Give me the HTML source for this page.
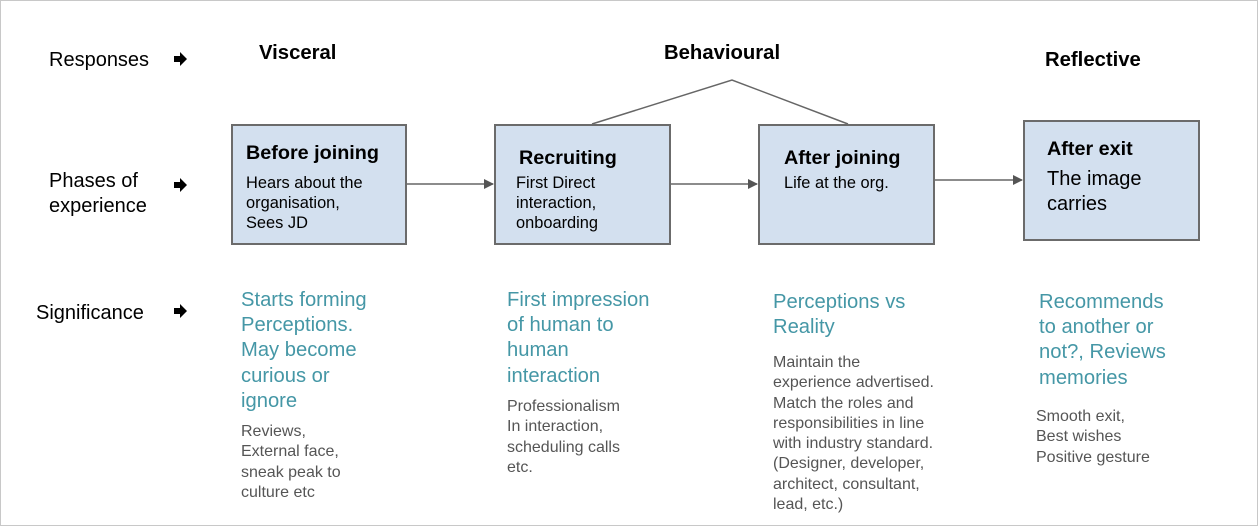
<!DOCTYPE html>
<html><head><style>
body{margin:0;width:1258px;height:526px;background:#fff;position:relative;font-family:"Liberation Sans",Arial,sans-serif;overflow:hidden}
.frame{position:absolute;left:0;top:0;width:1256px;height:524px;border:1px solid #c8c8c8}
.a{position:absolute;white-space:nowrap}
.lbl{font-size:20px;color:#000;line-height:25px}
.h{font-weight:bold;font-size:20.3px}
.box{position:absolute;background:#d3e0ef;border:2px solid #6b6b6b;box-sizing:border-box}
.bt{position:absolute;font-weight:bold;font-size:19.8px}
.bs{position:absolute;font-size:16.4px;line-height:20px;color:#000}
.teal{color:#4597a6;font-size:20.2px;line-height:25.2px}
.gray{color:#555;font-size:16px;line-height:20.3px}
</style></head><body>
<div class="frame"></div>
<svg class="a" style="left:0;top:0" width="1258" height="526">
<defs><marker id="m" markerWidth="10" markerHeight="10" refX="9" refY="5" orient="auto" markerUnits="userSpaceOnUse"><path d="M0,0 L10,5 L0,10 z" fill="#555"/></marker></defs>
<g stroke="#666" stroke-width="1.5" fill="none">
<polyline points="592,124 732,80 848,124"/>
<line x1="406" y1="184" x2="493" y2="184" marker-end="url(#m)"/>
<line x1="670" y1="184" x2="757" y2="184" marker-end="url(#m)"/>
<line x1="934" y1="180" x2="1022" y2="180" marker-end="url(#m)"/>
</g>
<g fill="#000">
<path d="M174,56 h6 v-4 l7,7 l-7,7 v-4 h-6z"/>
<path d="M174,182 h6 v-4 l7,7 l-7,7 v-4 h-6z"/>
<path d="M174,308 h6 v-4 l7,7 l-7,7 v-4 h-6z"/>
</g>
</svg>
<div class="a lbl" style="left:49px;top:48px">Responses</div>
<div class="a lbl" style="left:49px;top:169px">Phases of<br>experience</div>
<div class="a lbl" style="left:36px;top:301px">Significance</div>
<div class="a h" style="left:259px;top:42px">Visceral</div>
<div class="a h" style="left:664px;top:42px">Behavioural</div>
<div class="a h" style="left:1045px;top:49px">Reflective</div>

<div class="box" style="left:231px;top:124px;width:176px;height:121px"></div>
<div class="bt" style="left:246px;top:142px">Before joining</div>
<div class="bs" style="left:246px;top:173px">Hears about the<br>organisation,<br>Sees JD</div>

<div class="box" style="left:494px;top:124px;width:177px;height:121px"></div>
<div class="bt" style="left:519px;top:147px">Recruiting</div>
<div class="bs" style="left:516px;top:173px">First Direct<br>interaction,<br>onboarding</div>

<div class="box" style="left:758px;top:124px;width:177px;height:121px"></div>
<div class="bt" style="left:784px;top:147px">After joining</div>
<div class="bs" style="left:784px;top:173px">Life at the org.</div>

<div class="box" style="left:1023px;top:120px;width:177px;height:121px"></div>
<div class="bt" style="left:1047px;top:138px">After exit</div>
<div class="bs" style="left:1047px;top:167px;font-size:20px;line-height:25px">The image<br>carries</div>

<div class="a teal" style="left:241px;top:288px">Starts forming<br>Perceptions.<br>May become<br>curious or<br>ignore</div>
<div class="a gray" style="left:241px;top:422px">Reviews,<br>External face,<br>sneak peak to<br>culture etc</div>

<div class="a teal" style="left:507px;top:288px">First impression<br>of human to<br>human<br>interaction</div>
<div class="a gray" style="left:507px;top:397px">Professionalism<br>In interaction,<br>scheduling calls<br>etc.</div>

<div class="a teal" style="left:773px;top:290px">Perceptions vs<br>Reality</div>
<div class="a gray" style="left:773px;top:353px">Maintain the<br>experience advertised.<br>Match the roles and<br>responsibilities in line<br>with industry standard.<br>(Designer, developer,<br>architect, consultant,<br>lead, etc.)</div>

<div class="a teal" style="left:1039px;top:290px">Recommends<br>to another or<br>not?, Reviews<br>memories</div>
<div class="a gray" style="left:1036px;top:407px">Smooth exit,<br>Best wishes<br>Positive gesture</div>
</body></html>
